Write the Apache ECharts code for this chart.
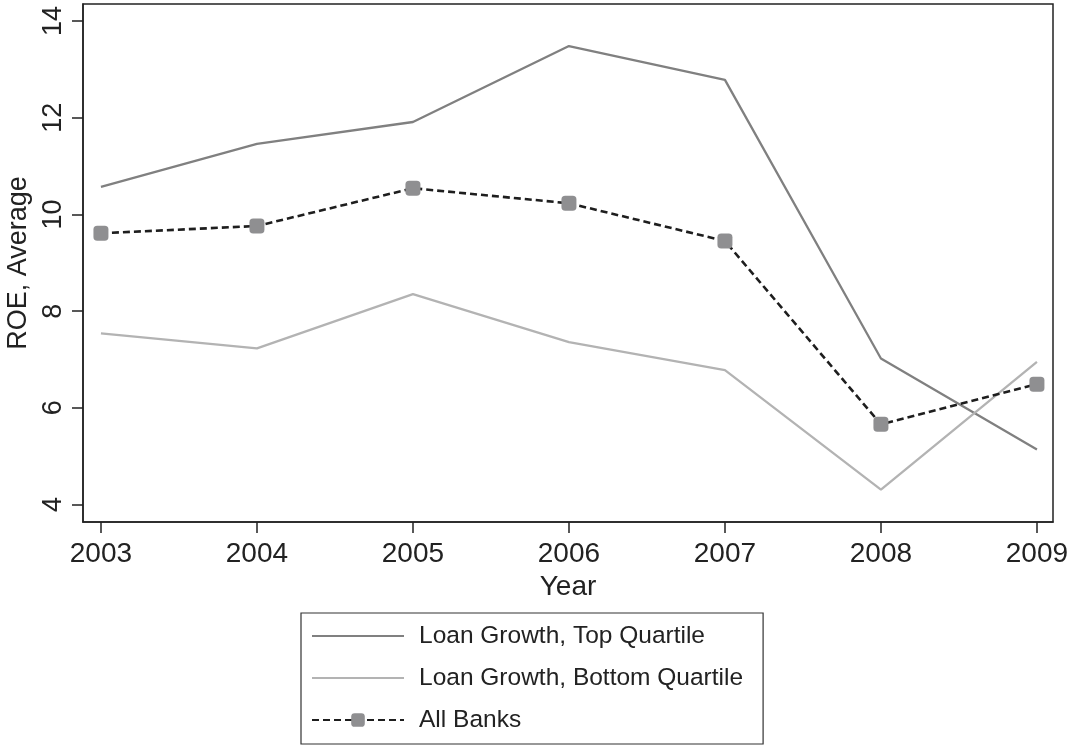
<!DOCTYPE html>
<html>
<head>
<meta charset="utf-8">
<script src="https://cdn.jsdelivr.net/npm/echarts@6/dist/echarts.min.js"></script>
<style>html,body{margin:0;padding:0;background:#fff}#c{width:1070px;height:745px}</style>
</head>
<body>
<div id="c"></div>
<script>
const years = [2003, 2004, 2005, 2006, 2007, 2008, 2009];
const topQuartile = [10.57, 11.46, 11.91, 13.48, 12.78, 7.02, 5.14];
const bottomQuartile = [7.54, 7.23, 8.35, 7.36, 6.78, 4.31, 6.95];
const allBanks = [9.61, 9.76, 10.54, 10.23, 9.45, 5.66, 6.49];
const yTicks = [4, 6, 8, 10, 12, 14];
const seriesNames = ['Loan Growth, Top Quartile', 'Loan Growth, Bottom Quartile', 'All Banks'];

const pair = arr => years.map((y, i) => [y, arr[i]]);
const font = 'Liberation Sans, Arial, Helvetica, sans-serif';
const chart = echarts.init(document.getElementById('c'), null, {renderer: 'canvas'});
chart.setOption({
  backgroundColor: '#fff',
  animation: false,
  textStyle: {fontFamily: font, color: '#222'},
  grid: {left: 83, top: 4, right: 17, bottom: 223, show: true, borderColor: '#222', borderWidth: 1.5, backgroundColor: '#fff', containLabel: false, outerBoundsMode: 'none'},
  xAxis: {
    type: 'value', min: 2002.885, max: 2009.103,
    name: 'Year', nameLocation: 'middle', nameGap: 40,
    nameTextStyle: {fontSize: 28, color: '#222', fontFamily: font},
    axisLine: {show: true, lineStyle: {color: '#222', width: 1.5}},
    axisTick: {show: true, length: 11, customValues: years, lineStyle: {color: '#222', width: 1.5}},
    axisLabel: {customValues: years, fontSize: 28, color: '#222', margin: 18, formatter: v => String(v), fontFamily: font},
    splitLine: {show: false}
  },
  yAxis: {
    type: 'value', min: 3.64, max: 14.35,
    name: 'ROE, Average', nameLocation: 'middle', nameGap: 47, nameRotate: 90,
    nameTextStyle: {fontSize: 27, color: '#222', fontFamily: font},
    axisLine: {show: true, lineStyle: {color: '#222', width: 1.5}},
    axisTick: {show: true, length: 11, customValues: yTicks, lineStyle: {color: '#222', width: 1.5}},
    axisLabel: {customValues: yTicks, fontSize: 27, color: '#222', margin: 16, rotate: 90, formatter: v => String(v), fontFamily: font},
    splitLine: {show: false}
  },
  legend: {
    orient: 'vertical', left: 301, top: 613,
    data: [
      {name: seriesNames[0], itemStyle: {opacity: 0}},
      {name: seriesNames[1], itemStyle: {opacity: 0}},
      {name: seriesNames[2]}
    ],
    itemWidth: 92, itemHeight: 17, itemGap: 14,
    padding: [9, 20, 10, 10],
    borderColor: '#333', borderWidth: 1.2,
    textStyle: {fontSize: 24.5, color: '#222', lineHeight: 28, fontFamily: font, padding: [0, 0, 0, 10]}
  },
  series: [
    {name: seriesNames[0], type: 'line', data: pair(topQuartile), symbol: 'none',
     lineStyle: {color: '#808080', width: 2.3}, itemStyle: {color: '#808080'}},
    {name: seriesNames[1], type: 'line', data: pair(bottomQuartile), symbol: 'none',
     lineStyle: {color: '#b3b3b3', width: 2.3}, itemStyle: {color: '#b3b3b3'}},
    {name: seriesNames[2], type: 'line', data: pair(allBanks), symbol: 'roundRect', symbolSize: 15,
     lineStyle: {color: '#1e1e1e', width: 2.6, type: [7, 4]}, itemStyle: {color: '#8f8f91'}}
  ]
});
</script>
</body>
</html>
